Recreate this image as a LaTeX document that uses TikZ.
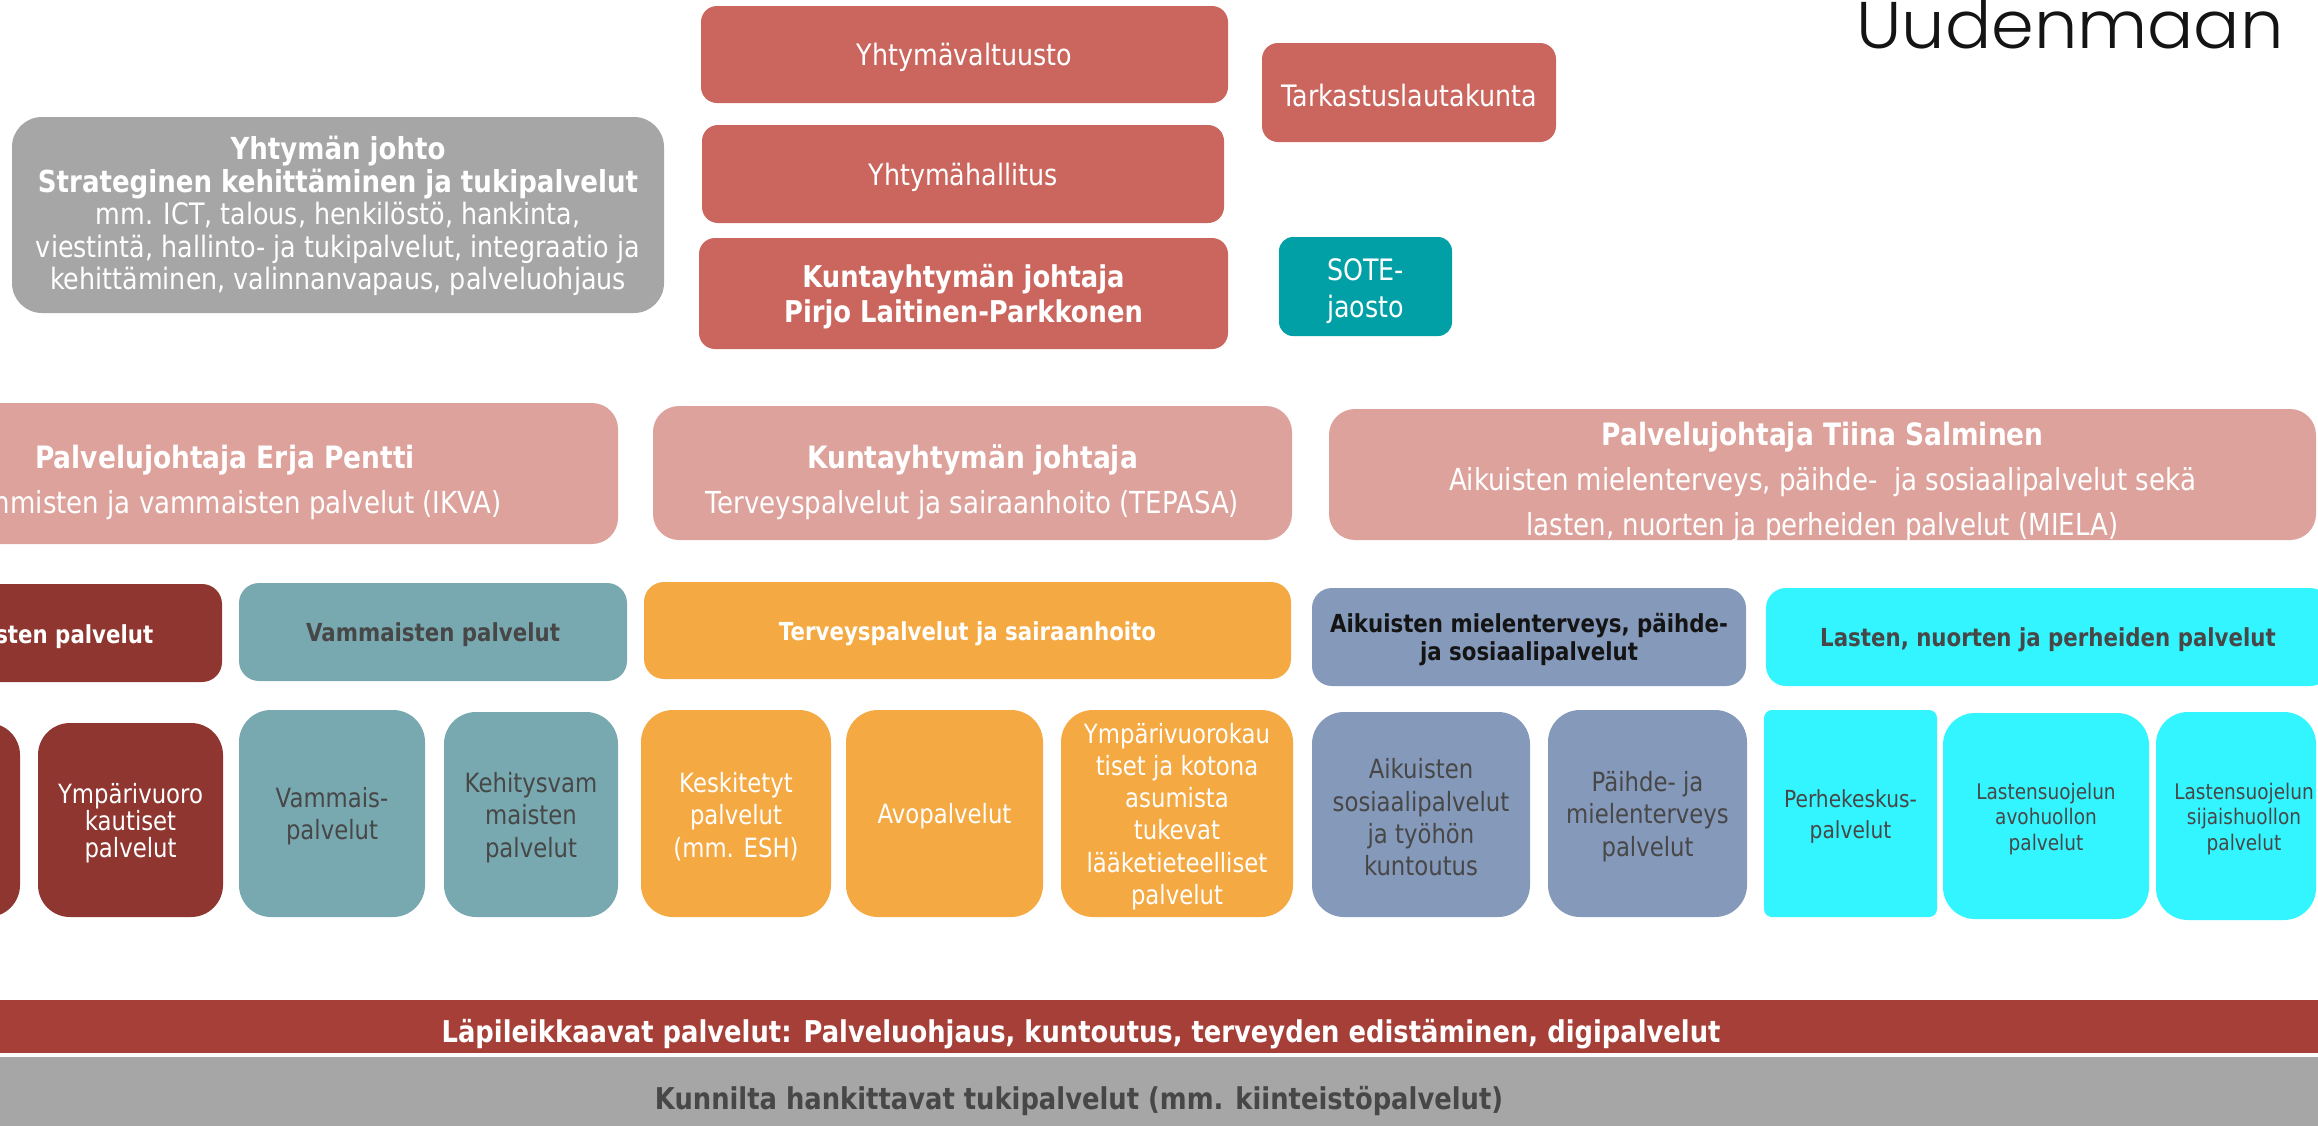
\documentclass[tikz,border=0pt]{standalone}
\usepackage{fontspec}
\setmainfont{DejaVu Sans}[FakeStretch=0.86]
\newfontfamily\logofont{Poppins Light}[FakeStretch=1.04]
\definecolor{cTop}{HTML}{CA665E}
\definecolor{cPink}{HTML}{DDA29C}
\definecolor{cGrey}{HTML}{A6A6A6}
\definecolor{cSote}{HTML}{00A0A6}
\definecolor{cDark}{HTML}{8E362F}
\definecolor{cTeal}{HTML}{78A9B0}
\definecolor{cOrange}{HTML}{F5A942}
\definecolor{cBlue}{HTML}{8599BB}
\definecolor{cCyan}{HTML}{33F5FF}
\definecolor{cBar}{HTML}{A63F38}
\definecolor{cText}{HTML}{474747}
\newcommand\fs[2]{\fontsize{#1pt}{#2pt}\selectfont}
% empty box: name, x1, y1, x2, y2, options
\newcommand\ebox[6]{%
  \pgfmathsetmacro\oCX{((#2)+(#4))/2}%
  \pgfmathsetmacro\oCY{((#3)+(#5))/2}%
  \pgfmathsetmacro\oW{(#4)-(#2)}%
  \pgfmathsetmacro\oH{(#5)-(#3)}%
  \node[box,#6,minimum width=\oW pt,minimum height=\oH pt] (#1) at (\oCX,\oCY) {};}
% box with text: name, x1, y1, x2, y2, box options, text options, text
\newcommand\obox[8]{%
  \ebox{#1}{#2}{#3}{#4}{#5}{#6}%
  \node[box,#7] (#1t) at (#1.center) {#8};}
\tikzset{
  box/.style={inner sep=0pt,align=center,draw=none},
  topbox/.style={fill=cTop,rounded corners=16pt},
  toptext/.style={text=white,font=\fs{29.5}{35.5},yshift=-3pt},
  rowtwo/.style={fill=cPink,rounded corners=26pt},
  rowtwotext/.style={text=white,font=\fs{30.3}{45},yshift=-9pt},
  head/.style={rounded corners=20pt},
  headtext/.style={font=\fs{24.8}{28}\bfseries,yshift=-3pt},
  unit/.style={rounded corners=32pt},
  unittext/.style={font=\fs{26.5}{32.3},yshift=-3pt},
  bartext/.style={inner sep=0pt,font=\fs{30}{34}\bfseries,yshift=-4pt}
}
\newcommand\bb[1]{{\fontsize{30.8pt}{45pt}\selectfont\bfseries #1}}
\begin{document}
\begin{tikzpicture}[x=1pt,y=-1pt]
\useasboundingbox (0,0) rectangle (2318,1125);
\fill[white] (0,0) rectangle (2318,1125);
% top
\obox{valt}{701}{6}{1228}{103}{topbox}{toptext}{Yhtymävaltuusto}
\obox{hall}{702}{125}{1224}{223}{topbox}{toptext}{Yhtymähallitus}
\obox{ktj}{699}{238}{1228}{349}{topbox}{toptext,font=\fs{30}{35.5}\bfseries}{Kuntayhtymän johtaja\\Pirjo Laitinen-Parkkonen}
\obox{tark}{1262}{43}{1556}{142}{topbox}{toptext}{Tarkastuslautakunta}
\obox{sote}{1279}{237}{1452}{336}{topbox,fill=cSote,rounded corners=14pt}{toptext,font=\fs{29.5}{37},yshift=-2pt}{SOTE-\\jaosto}
\obox{johto}{12}{117}{664}{313}{fill=cGrey,rounded corners=30pt}{text=white,font=\fs{29.5}{32.5},yshift=-1pt}{{\fontsize{30.3pt}{32.5pt}\selectfont\bfseries Yhtymän johto}\\{\fontsize{30.3pt}{32.5pt}\selectfont\bfseries Strateginen kehittäminen ja tukipalvelut}\\mm. ICT, talous, henkilöstö, hankinta,\\viestintä, hallinto- ja tukipalvelut, integraatio ja\\kehittäminen, valinnanvapaus, palveluohjaus}
\node[anchor=base west,inner sep=0pt,font=\logofont\fs{66}{66},text=black!92] (logo) at (1856,48) {Uudenmaan};
% row 2
\obox{ikva}{-168}{403}{618}{544}{rowtwo}{rowtwotext}{\bb{Palvelujohtaja Erja Pentti}\\Ikäihmisten ja vammaisten palvelut (IKVA)}
\obox{tepasa}{653}{406}{1292}{540}{rowtwo}{rowtwotext}{\bb{Kuntayhtymän johtaja}\\Terveyspalvelut ja sairaanhoito (TEPASA)}
\obox{miela}{1329}{409}{2316}{540}{rowtwo}{rowtwotext,yshift=2pt}{\bb{Palvelujohtaja Tiina Salminen}\\Aikuisten mielenterveys, päihde-\ \ ja sosiaalipalvelut sekä\\lasten, nuorten ja perheiden palvelut (MIELA)}
% row 3
\obox{h1}{-162}{584}{222}{682}{head,fill=cDark}{headtext,text=white}{Ikäihmisten palvelut}
\obox{h2}{239}{583}{627}{681}{head,fill=cTeal}{headtext,text=cText}{Vammaisten palvelut}
\obox{h3}{644}{582}{1291}{679}{head,fill=cOrange}{headtext,text=white}{Terveyspalvelut ja sairaanhoito}
\obox{h4}{1312}{588}{1746}{686}{head,fill=cBlue}{headtext,text=black!92}{Aikuisten mielenterveys, päihde-\\ja sosiaalipalvelut}
\obox{h5}{1766}{588}{2330}{686}{head,fill=cCyan}{headtext,text=cText}{Lasten, nuorten ja perheiden palvelut}
% row 4
\ebox{r0}{-150}{723}{20}{917}{unit,fill=cDark}
\obox{r1}{38}{723}{223}{917}{unit,fill=cDark}{unittext,text=white,font=\fs{26.5}{27}}{Ympärivuoro\\kautiset\\palvelut}
\obox{r2}{239}{710}{425}{917}{unit,fill=cTeal}{unittext,text=cText}{Vammais-\\palvelut}
\obox{r3}{444}{712}{618}{917}{unit,fill=cTeal}{unittext,text=cText}{Kehitysvam\\maisten\\palvelut}
\obox{r4}{641}{710}{831}{917}{unit,fill=cOrange}{unittext,text=white}{Keskitetyt\\palvelut\\(mm. ESH)}
\obox{r5}{846}{710}{1043}{917}{unit,fill=cOrange}{unittext,text=white}{Avopalvelut}
\obox{r6}{1061}{710}{1293}{917}{unit,fill=cOrange}{unittext,text=white}{Ympärivuorokau\\tiset ja kotona\\asumista\\tukevat\\lääketieteelliset\\palvelut}
\obox{r7}{1312}{712}{1530}{917}{unit,fill=cBlue}{unittext,text=cText}{Aikuisten\\sosiaalipalvelut\\ja työhön\\kuntoutus}
\obox{r8}{1548}{710}{1747}{917}{unit,fill=cBlue}{unittext,text=cText}{Päihde- ja\\mielenterveys\\palvelut}
\obox{r9}{1764}{710}{1937}{917}{unit,fill=cCyan,rounded corners=8pt}{unittext,text=cText,font=\fs{23.5}{31}}{Perhekeskus-\\palvelut}
\obox{r10}{1943}{713}{2149}{919}{unit,fill=cCyan}{unittext,text=cText,font=\fs{21.5}{25.5}}{Lastensuojelun\\avohuollon\\palvelut}
\ebox{r11}{2156}{712}{2316}{920}{unit,fill=cCyan}
\node[box,unittext,text=cText,font=\fs{21.5}{25.5}] (r11t) at (2244,816) {Lastensuojelun\\sijaishuollon\\palvelut};
% bars
\ebox{bar1}{-10}{1000}{2330}{1053}{fill=cBar}
\node[bartext,text=white] (bar1t) at (1081,1030) {Läpileikkaavat palvelut: Palveluohjaus, kuntoutus, terveyden edistäminen, digipalvelut};
\ebox{bar2}{-10}{1057}{2330}{1135}{fill=cGrey}
\node[bartext,text=cText] (bar2t) at (1079,1097) {Kunnilta hankittavat tukipalvelut (mm. kiinteistöpalvelut)};
\end{tikzpicture}
\end{document}
